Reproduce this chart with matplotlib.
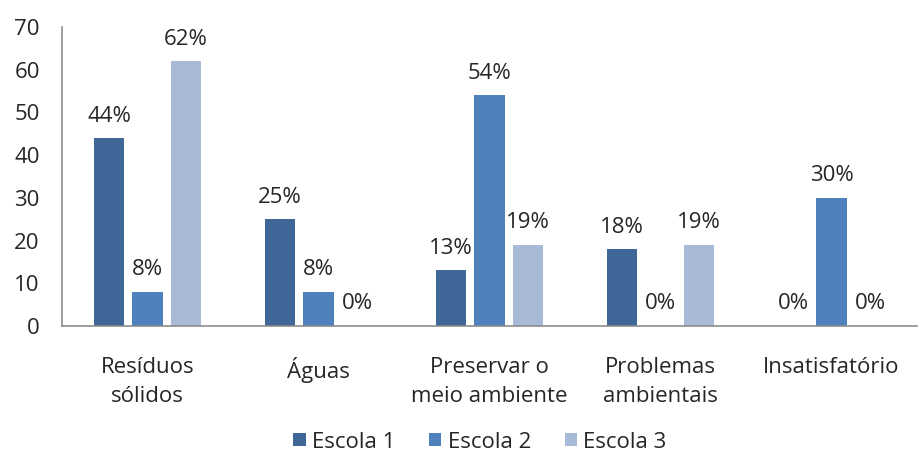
import numpy as np
import matplotlib.pyplot as plt

plt.rcParams['font.family'] = ['Open Sans', 'DejaVu Sans']

categories = ['Resíduos\nsólidos', 'Águas', 'Preservar o\nmeio ambiente',
              'Problemas\nambientais', 'Insatisfatório']
series = ['Escola 1', 'Escola 2', 'Escola 3']
escola1 = [44, 25, 13, 18, 0]
escola2 = [8, 8, 54, 0, 30]
escola3 = [62, 0, 19, 19, 0]
colors = ['#3F6898', '#4F81BD', '#A8BAD8']

fig = plt.figure(figsize=(9.18, 4.61), dpi=100)
ax = fig.add_axes([62 / 918, 1 - 326 / 461, 855 / 918, 299 / 461])

x = np.arange(len(categories))
width = 0.176
step = 0.225
text_color = '#262626'
fs = 16

for i, (name, vals, col) in enumerate(zip(series, [escola1, escola2, escola3], colors)):
    pos = x + (i - 1) * step
    bars = ax.bar(pos, vals, width, color=col, label=name)
    for b, v in zip(bars, vals):
        ax.text(b.get_x() + b.get_width() / 2, v + 2.7, f'{v}%',
                ha='center', va='bottom', fontsize=fs, color=text_color)

ax.set_xlim(-0.5, len(categories) - 0.5)
ax.set_ylim(0, 70)
ax.set_yticks(range(0, 71, 10))
ax.set_xticks(x)
ax.set_xticklabels(categories, fontsize=fs, color=text_color, linespacing=1.55)
ax.tick_params(axis='both', length=0, labelsize=fs, colors=text_color)
ax.tick_params(axis='x', pad=22)
ax.tick_params(axis='y', pad=16)

for side in ['top', 'right']:
    ax.spines[side].set_visible(False)
for side in ['left', 'bottom']:
    ax.spines[side].set_color('#8C8C8C')
    ax.spines[side].set_linewidth(1.2)

fig.legend(loc='center', bbox_to_anchor=(480 / 918, 1 - 442 / 461), ncol=3,
           frameon=False, fontsize=fs, handlelength=0.55, handleheight=0.55,
           handletextpad=0.3, columnspacing=1.5, labelcolor=text_color)

fig.savefig('out.png', dpi=100)
